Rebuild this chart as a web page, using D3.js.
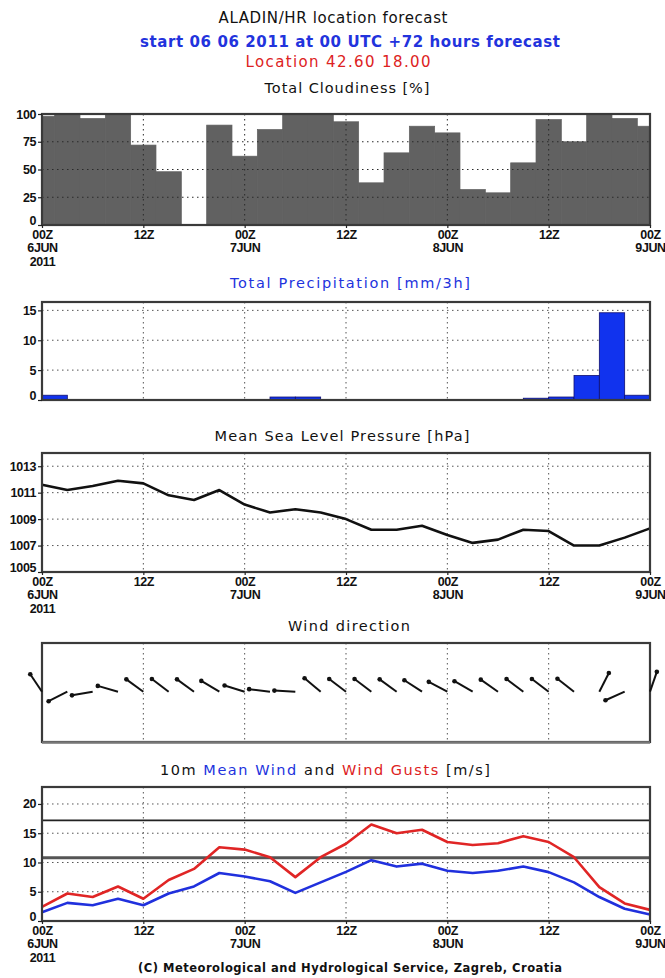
<!DOCTYPE html>
<html>
<head>
<meta charset="utf-8">
<script src="https://cdn.jsdelivr.net/npm/d3@7"></script>
<style>
  body { margin: 0; background: #fff; }
  svg text { font-family: "DejaVu Sans", sans-serif; }
  .ax text { font-family: "Liberation Sans", Arial, sans-serif; font-weight: bold; font-size: 12.5px; fill: #111; letter-spacing: -0.4px; }
  .ax line { stroke: #222; stroke-width: 1.2; }
  .grid { stroke: #555; stroke-width: 1; stroke-dasharray: 1.5 3.5; }
</style>
</head>
<body>
<script>
// forecast times, hours since 06 06 2011 00 UTC
const hours = [0, 3, 6, 9, 12, 15, 18, 21, 24, 27, 30, 33, 36, 39, 42, 45, 48, 51, 54, 57, 60, 63, 66, 69, 72];

// total cloudiness [%] at each time
const cloudiness = [98, 100, 96, 100, 72, 48, 0, 90, 62, 86, 100, 100, 93, 38, 65, 89, 83, 32, 29, 56, 95, 75, 100, 96, 89];

// precipitation [mm/3h], intervals ending at 3, 6, ... 72
const precipEnd = [3, 6, 9, 12, 15, 18, 21, 24, 27, 30, 33, 36, 39, 42, 45, 48, 51, 54, 57, 60, 63, 66, 69, 72];
const precip = [0.8, 0, 0, 0, 0, 0, 0, 0, 0, 0.5, 0.5, 0, 0, 0, 0, 0, 0, 0, 0, 0.3, 0.5, 4.1, 14.6, 0.8];

// mean sea level pressure [hPa]
const pressure = [1011.6, 1011.2, 1011.5, 1011.9, 1011.7, 1010.8, 1010.45, 1011.2, 1010.1, 1009.5, 1009.75, 1009.5,
  1009.0, 1008.2, 1008.2, 1008.5, 1007.8, 1007.2, 1007.45, 1008.2, 1008.1, 1007.0, 1007.0, 1007.6, 1008.3];

// arrow bearing (deg, 0 = up/north, clockwise)
const windDir = [326, 243, 260, 286, 306, 307, 306, 301, 287, 277, 273, 310, 307, 307, 306, 303, 298, 300, 305, 307, 307, 308, 27, 246, 19];

// 10 m mean wind and gusts [m/s]
const meanWind = [1.5, 3.1, 2.7, 3.8, 2.7, 4.7, 5.9, 8.2, 7.6, 6.8, 4.8, 6.6, 8.4, 10.4, 9.3, 9.8, 8.6, 8.2, 8.6, 9.3, 8.35, 6.6, 4.1, 2.1, 1.1];
const gusts = [2.4, 4.7, 4.1, 5.9, 3.8, 7.0, 8.9, 12.6, 12.2, 10.9, 7.5, 10.9, 13.2, 16.5, 15.0, 15.6, 13.5, 13.0, 13.3, 14.5, 13.5, 10.9, 5.8, 3.0, 1.9];
const windLimits = [10.8, 17.2];

// time axis
const xTickHours = [0, 12, 24, 36, 48, 60, 72];
const xTickLabels = [["00Z", "6JUN", "2011"], ["12Z"], ["00Z", "7JUN"], ["12Z"], ["00Z", "8JUN"], ["12Z"], ["00Z", "9JUN"]];

const W = 665, H = 978;
const svg = d3.select("body").append("svg").attr("width", W).attr("height", H);

const x = d3.scaleLinear().domain([0, 72]).range([42, 650]);

// cx = centre, w = text width as in the original
function title(cx, y, w, parts, size, weight) {
  const t = svg.append("text").attr("x", cx - w / 2).attr("y", y)
    .attr("textLength", w).attr("lengthAdjust", "spacing")
    .attr("font-size", size).attr("font-weight", weight || "normal");
  parts.forEach(p => t.append("tspan").attr("fill", p[1]).text(p[0]));
}

title(333, 23, 229, [["ALADIN/HR location forecast", "#111"]], 15);
title(350, 47, 420, [["start 06 06 2011 at 00 UTC +72 hours forecast", "#2233dd"]], 15, "bold");
title(338, 67, 185, [["Location 42.60 18.00", "#dd2222"]], 15);
title(347, 93, 165, [["Total Cloudiness [%]", "#111"]], 14.5);
title(350, 288, 240, [["Total Precipitation [mm/3h]", "#2233dd"]], 14.5);
title(342, 441, 255, [["Mean Sea Level Pressure [hPa]", "#111"]], 14.5);
title(349, 631, 122, [["Wind direction", "#111"]], 14.5);
title(325, 775, 330, [["10m ", "#111"], ["Mean Wind", "#2233dd"], [" and ", "#111"], ["Wind Gusts", "#dd2222"], [" [m/s]", "#111"]], 14.5);
title(350, 972, 424, [["(C) Meteorological and Hydrological Service, Zagreb, Croatia", "#111"]], 11.5, "bold");

function vGrid(g, top, bottom) {
  g.selectAll(".vg").data(xTickHours.slice(1, -1)).join("line").attr("class", "grid")
    .attr("x1", d => x(d)).attr("x2", d => x(d)).attr("y1", top).attr("y2", bottom);
}
function hGrid(g, y, vals) {
  g.selectAll(".hg").data(vals).join("line").attr("class", "grid")
    .attr("x1", x(0)).attr("x2", x(72)).attr("y1", d => y(d)).attr("y2", d => y(d));
}
function frame(g, top, bottom) {
  g.append("rect").attr("x", x(0)).attr("y", top).attr("width", x(72) - x(0)).attr("height", bottom - top)
    .attr("fill", "none").attr("stroke", "#3a3a3a").attr("stroke-width", 2.2);
}
function yAxis(g, y, vals) {
  const a = g.append("g").attr("class", "ax").attr("transform", `translate(${x(0)},0)`)
    .call(d3.axisLeft(y).tickValues(vals).tickSize(4).tickPadding(2).tickFormat(d3.format("d")));
  a.select(".domain").remove();
  a.selectAll(".tick").filter(d => d === vals[0]).select("text").attr("dy", "-0.05em");
}
function xAxis(g, y0) {
  const a = g.append("g").attr("class", "ax").attr("transform", `translate(0,${y0})`)
    .call(d3.axisBottom(x).tickValues(xTickHours).tickSize(3).tickPadding(2).tickFormat(() => ""));
  a.select(".domain").remove();
  a.selectAll(".tick text").each(function (d, i) {
    d3.select(this).selectAll("tspan").data(xTickLabels[i]).join("tspan")
      .attr("x", 0).attr("dy", (l, j) => j ? "13.5px" : "0.71em").text(l => l);
  });
}

// ---- cloudiness
{
  const top = 114, bottom = 225;
  const y = d3.scaleLinear().domain([0, 100]).range([bottom, top]);
  const g = svg.append("g");
  g.selectAll("rect.bar").data(hours).join("rect").attr("class", "bar")
    .attr("x", h => x(Math.max(0, h - 1.5)))
    .attr("width", h => x(Math.min(72, h + 1.5)) - x(Math.max(0, h - 1.5)))
    .attr("y", (h, i) => y(cloudiness[i]))
    .attr("height", (h, i) => bottom - y(cloudiness[i]))
    .attr("fill", "#616161").attr("stroke", "#616161").attr("stroke-width", 0.7);
  hGrid(g, y, [25, 50, 75]);
  vGrid(g, top, bottom);
  g.selectAll(".grid").style("stroke", "#2a2a2a");
  frame(g, top, bottom);
  yAxis(g, y, [0, 25, 50, 75, 100]);
  xAxis(g, bottom);
}

// ---- precipitation
{
  const top = 302, bottom = 400;
  const y = d3.scaleLinear().domain([0, 16.4]).range([bottom, top]);
  const g = svg.append("g");
  hGrid(g, y, [5, 10, 15]);
  vGrid(g, top, bottom);
  g.selectAll("rect.bar").data(precipEnd).join("rect").attr("class", "bar")
    .attr("x", h => x(h - 3)).attr("width", h => x(h) - x(h - 3))
    .attr("y", (h, i) => y(precip[i])).attr("height", (h, i) => bottom - y(precip[i]))
    .attr("fill", "#1133ee").attr("stroke", "#101070").attr("stroke-width", 0.8);
  frame(g, top, bottom);
  yAxis(g, y, [0, 5, 10, 15]);
}

// ---- pressure
{
  const top = 453, bottom = 572;
  const y = d3.scaleLinear().domain([1005, 1014]).range([bottom, top]);
  const g = svg.append("g");
  hGrid(g, y, [1007, 1009, 1011, 1013]);
  vGrid(g, top, bottom);
  g.append("path").datum(pressure)
    .attr("d", d3.line().x((d, i) => x(hours[i])).y(d => y(d)))
    .attr("fill", "none").attr("stroke", "#111").attr("stroke-width", 2.6).attr("stroke-linejoin", "round");
  frame(g, top, bottom);
  yAxis(g, y, [1005, 1007, 1009, 1011, 1013]);
  xAxis(g, bottom);
}

// ---- wind direction
{
  const top = 643, bottom = 742, mid = 691.7, len = 21;
  const g = svg.append("g");
  vGrid(g, top, bottom);
  frame(g, top, bottom);
  g.append("line").attr("x1", x(0)).attr("x2", x(72)).attr("y1", bottom + 0.5).attr("y2", bottom + 0.5)
    .attr("stroke", "#777").attr("stroke-width", 2.5);
  const rad = b => b * Math.PI / 180;
  g.selectAll("line.arr").data(hours).join("line").attr("class", "arr")
    .attr("x1", h => x(h)).attr("y1", mid)
    .attr("x2", (h, i) => x(h) + len * Math.sin(rad(windDir[i])))
    .attr("y2", (h, i) => mid - len * Math.cos(rad(windDir[i])))
    .attr("stroke", "#111").attr("stroke-width", 2);
  g.selectAll("circle.head").data(hours).join("circle").attr("class", "head")
    .attr("cx", (h, i) => x(h) + len * Math.sin(rad(windDir[i])))
    .attr("cy", (h, i) => mid - len * Math.cos(rad(windDir[i])))
    .attr("r", 2.3).attr("fill", "#111");
}

// ---- wind speed
{
  const top = 787, bottom = 921;
  const y = d3.scaleLinear().domain([0, 22.9]).range([bottom, top]);
  const g = svg.append("g");
  hGrid(g, y, [5, 10, 15, 20]);
  vGrid(g, top, bottom);
  g.selectAll("line.lim").data(windLimits).join("line").attr("class", "lim")
    .attr("x1", x(0)).attr("x2", x(72)).attr("y1", d => y(d)).attr("y2", d => y(d))
    .attr("stroke", (d, i) => i ? "#222" : "#555").attr("stroke-width", (d, i) => i ? 1.8 : 3);
  const line = d3.line().x((d, i) => x(hours[i])).y(d => y(d));
  g.append("path").datum(gusts).attr("d", line)
    .attr("fill", "none").attr("stroke", "#e02525").attr("stroke-width", 2.6).attr("stroke-linejoin", "round");
  g.append("path").datum(meanWind).attr("d", line)
    .attr("fill", "none").attr("stroke", "#2030dd").attr("stroke-width", 2.6).attr("stroke-linejoin", "round");
  frame(g, top, bottom);
  yAxis(g, y, [0, 5, 10, 15, 20]);
  xAxis(g, bottom);
}
</script>
</body>
</html>
